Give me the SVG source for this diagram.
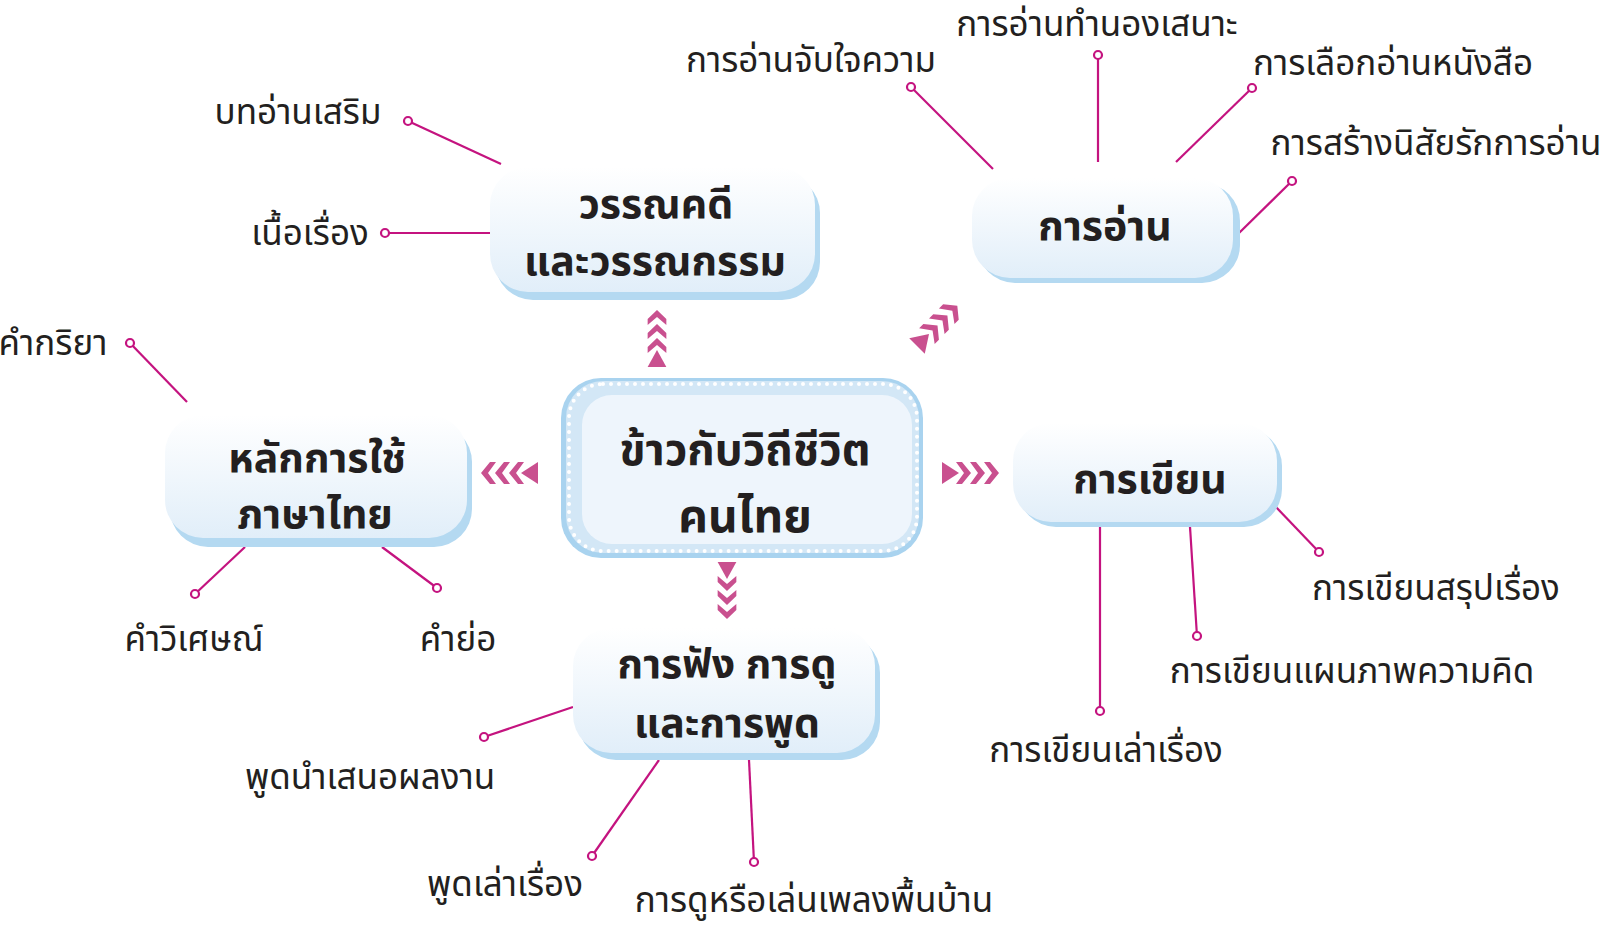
<svg xmlns="http://www.w3.org/2000/svg" width="1602" height="927" viewBox="0 0 1602 927">
<defs>
<style>
text{font-family:"Noto Sans Thai","Noto Sans","Noto Sans CJK SC",sans-serif;fill:#231f20}
.t{font-size:41px;font-weight:bold;text-anchor:middle}
.l{font-size:35px;text-anchor:middle}
.ln{stroke:#c4137f;stroke-width:2.2;fill:none}
.dot{fill:#fff;stroke:#c4137f;stroke-width:2.2}
.sh{fill:#b4d9f1}
.bx{fill:url(#g)}
.ar{fill:#c9508f}
</style>
<linearGradient id="g" x1="0" y1="0" x2="0" y2="1">
<stop offset="0" stop-color="#ffffff"/>
<stop offset="1" stop-color="#e1eef9"/>
</linearGradient>
<g id="arrow">
<polygon points="0,-11 17,0 0,11"/>
<polygon points="14,-11 20,-11 29,0 20,11 14,11 22,0"/>
<polygon points="28,-11 34,-11 43,0 34,11 28,11 36,0"/>
<polygon points="42,-11 48,-11 57,0 48,11 42,11 50,0"/>
</g>
</defs>
<rect width="1602" height="927" fill="#fff"/>

<g id="connectors">
<line class="ln" x1="408" y1="121" x2="501" y2="164"/>
<line class="ln" x1="385" y1="233" x2="490" y2="233"/>
<line class="ln" x1="130" y1="343" x2="187" y2="402"/>
<line class="ln" x1="195" y1="594" x2="245" y2="547"/>
<line class="ln" x1="437" y1="588" x2="382" y2="547"/>
<line class="ln" x1="484" y1="737" x2="573" y2="707"/>
<line class="ln" x1="592" y1="856" x2="659" y2="760"/>
<line class="ln" x1="754" y1="862" x2="749" y2="760"/>
<line class="ln" x1="911" y1="87" x2="993" y2="169"/>
<line class="ln" x1="1098" y1="55" x2="1098" y2="162"/>
<line class="ln" x1="1252" y1="88" x2="1176" y2="162"/>
<line class="ln" x1="1292" y1="181" x2="1238" y2="234"/>
<line class="ln" x1="1319" y1="552" x2="1275" y2="506"/>
<line class="ln" x1="1197" y1="636" x2="1190" y2="527"/>
<line class="ln" x1="1100" y1="711" x2="1100" y2="527"/>
<circle class="dot" cx="408" cy="121" r="4"/>
<circle class="dot" cx="385" cy="233" r="4"/>
<circle class="dot" cx="130" cy="343" r="4"/>
<circle class="dot" cx="195" cy="594" r="4"/>
<circle class="dot" cx="437" cy="588" r="4"/>
<circle class="dot" cx="484" cy="737" r="4"/>
<circle class="dot" cx="592" cy="856" r="4"/>
<circle class="dot" cx="754" cy="862" r="4"/>
<circle class="dot" cx="911" cy="87" r="4"/>
<circle class="dot" cx="1098" cy="55" r="4"/>
<circle class="dot" cx="1252" cy="88" r="4"/>
<circle class="dot" cx="1292" cy="181" r="4"/>
<circle class="dot" cx="1319" cy="552" r="4"/>
<circle class="dot" cx="1197" cy="636" r="4"/>
<circle class="dot" cx="1100" cy="711" r="4"/>
<g class="ar">
<use href="#arrow" transform="translate(942,473)"/>
<use href="#arrow" transform="translate(538,473) rotate(180)"/>
<use href="#arrow" transform="translate(657,367) rotate(-90) scale(1,0.85)"/>
<use href="#arrow" transform="translate(727,562) rotate(90) scale(1,0.85)"/>
<use href="#arrow" transform="translate(917,346) rotate(-45)"/>
</g>
</g>

<g id="center">
<rect x="561" y="378" width="362" height="180" rx="40" fill="#a9d3ef"/>
<rect x="566" y="381" width="353" height="172" rx="37" fill="#d3e7f6"/>
<rect x="569" y="384" width="348" height="167" rx="34" fill="none" stroke="#fff" stroke-width="4" stroke-linecap="round" stroke-dasharray="0 8"/>
<rect x="582" y="395" width="330" height="149" rx="30" fill="#eef5fc"/>
<text class="t" x="745" y="465" style="font-size:44px">ข้าวกับวิถีชีวิต</text>
<text class="t" x="745" y="532" style="font-size:46px">คนไทย</text>
</g>

<g id="literature">
<rect class="sh" x="495" y="175" width="325" height="125" rx="38"/>
<rect class="bx" x="490" y="167" width="325" height="125" rx="38"/>
<text class="t" x="656" y="218">วรรณคดี</text>
<text class="t" x="655" y="275">และวรรณกรรม</text>
</g>

<g id="reading">
<rect class="sh" x="977" y="183" width="263" height="100" rx="38"/>
<rect class="bx" x="972" y="178" width="261" height="100" rx="38"/>
<text class="t" x="1105" y="240">การอ่าน</text>
</g>

<g id="grammar">
<rect class="sh" x="170" y="424" width="302" height="123" rx="38"/>
<rect class="bx" x="165" y="415" width="302" height="123" rx="38"/>
<text class="t" x="317" y="472">หลักการใช้</text>
<text class="t" x="315" y="528">ภาษาไทย</text>
</g>

<g id="writing">
<rect class="sh" x="1018" y="428" width="264" height="99" rx="38"/>
<rect class="bx" x="1013" y="423" width="264" height="99" rx="38"/>
<text class="t" x="1150" y="493">การเขียน</text>
</g>

<g id="listening">
<rect class="sh" x="578" y="635" width="302" height="125" rx="38"/>
<rect class="bx" x="573" y="628" width="302" height="125" rx="38"/>
<text class="t" x="727" y="678">การฟัง การดู</text>
<text class="t" x="727" y="737">และการพูด</text>
</g>

<g id="labels">
<text class="l" x="298" y="124">บทอ่านเสริม</text>
<text class="l" x="310" y="245">เนื้อเรื่อง</text>
<text class="l" x="53" y="355">คำกริยา</text>
<text class="l" x="194" y="651">คำวิเศษณ์</text>
<text class="l" x="458" y="651">คำย่อ</text>
<text class="l" x="370" y="789">พูดนำเสนอผลงาน</text>
<text class="l" x="505" y="896">พูดเล่าเรื่อง</text>
<text class="l" x="814" y="912">การดูหรือเล่นเพลงพื้นบ้าน</text>
<text class="l" x="811" y="72">การอ่านจับใจความ</text>
<text class="l" x="1097" y="36">การอ่านทำนองเสนาะ</text>
<text class="l" x="1393" y="75">การเลือกอ่านหนังสือ</text>
<text class="l" x="1436" y="155">การสร้างนิสัยรักการอ่าน</text>
<text class="l" x="1436" y="600">การเขียนสรุปเรื่อง</text>
<text class="l" x="1352" y="683">การเขียนแผนภาพความคิด</text>
<text class="l" x="1106" y="762">การเขียนเล่าเรื่อง</text>
</g>
</svg>
